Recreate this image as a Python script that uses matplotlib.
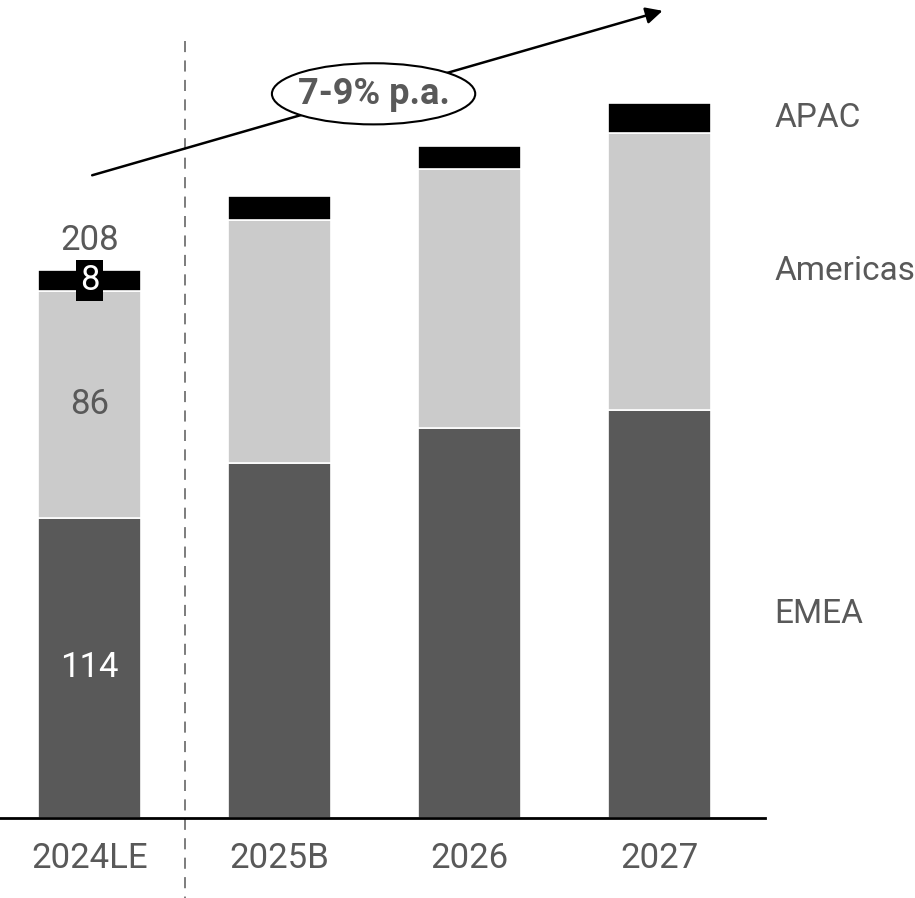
import matplotlib.pyplot as plt
from matplotlib.patches import Ellipse

# --- data ---
years = ['2024LE', '2025B', '2026', '2027']
emea = [114, 134.7, 148, 154.8]
americas = [86, 92.2, 98.3, 105.2]
apac = [8, 9.2, 8.7, 11.2]
regions = ['EMEA', 'Americas', 'APAC']
cagr_label = '7-9% p.a.'

plt.rcParams['font.family'] = ['Roboto', 'DejaVu Sans']
plt.rcParams['lines.scale_dashes'] = False
TXT = '#595959'
FS = 25

fig = plt.figure(figsize=(9.15, 8.98), dpi=100)
ax = fig.add_axes([0, 80 / 898, 765 / 915, 818 / 898])
ax.set_xlim(-0.471, 3.555); ax.set_ylim(0, 310.4)

x = range(len(years))
ax.bar(x, emea, width=0.545, color='#595959', edgecolor='white', linewidth=1.2)
ax.bar(x, americas, width=0.545, bottom=emea, color='#cbcbcb', edgecolor='white', linewidth=1.2)
bot2 = [e + a for e, a in zip(emea, americas)]
ax.bar(x, apac, width=0.545, bottom=bot2, color='black', edgecolor='white', linewidth=1.2)

# --- first bar value labels ---
ax.text(0, emea[0] / 2, f'{emea[0]:.0f}', color='white', fontsize=FS, ha='center', va='center')
ax.text(0, emea[0] + americas[0] / 2, f'{americas[0]:.0f}', color=TXT, fontsize=FS, ha='center', va='center')
ax.text(0, bot2[0] + apac[0] / 2, f'{apac[0]:.0f}', color='white', fontsize=FS, ha='center', va='center',
        bbox=dict(boxstyle='square,pad=0.12', fc='black', ec='none'))
total0 = bot2[0] + apac[0]
ax.text(0, total0 + 11, f'{total0:.0f}', color=TXT, fontsize=FS, ha='center', va='center')

# --- region labels next to last bar ---
i = len(years) - 1
ax.text(3.605, emea[i] / 2, regions[0], color=TXT, fontsize=24, va='center', clip_on=False)
ax.text(3.605, emea[i] + americas[i] / 2, regions[1], color=TXT, fontsize=24, va='center', clip_on=False)
ax.text(3.605, bot2[i] + apac[i] / 2, regions[2], color=TXT, fontsize=24, va='center', clip_on=False)

# --- growth arrow with ellipse ---
ax.annotate('', xy=(3.03, 306.6), xytext=(0.0, 243.6), annotation_clip=False,
            arrowprops=dict(arrowstyle='-|>', color='black', lw=1.8, mutation_scale=25))
ax.add_patch(Ellipse((1.495, 274.8), 1.07, 23.2, fc='white', ec='black', lw=1.5, zorder=5, clip_on=False))
ax.text(1.495, 274.8, cagr_label, color=TXT, fontsize=26, fontweight='bold', ha='center', va='center', zorder=6)

# --- separator between actuals and plan ---
ax.plot([0.5, 0.5], [295, -31], color='#666666', lw=1.2, ls=(0, (8, 6)), clip_on=False)

for s in ['top', 'right', 'left']: ax.spines[s].set_visible(False)
ax.spines['bottom'].set_linewidth(2)
ax.set_yticks([]); ax.set_xticks(list(x)); ax.set_xticklabels(years, fontsize=FS, color=TXT)
ax.tick_params(axis='x', length=0, pad=17)

fig.savefig('out.png', dpi=100)
